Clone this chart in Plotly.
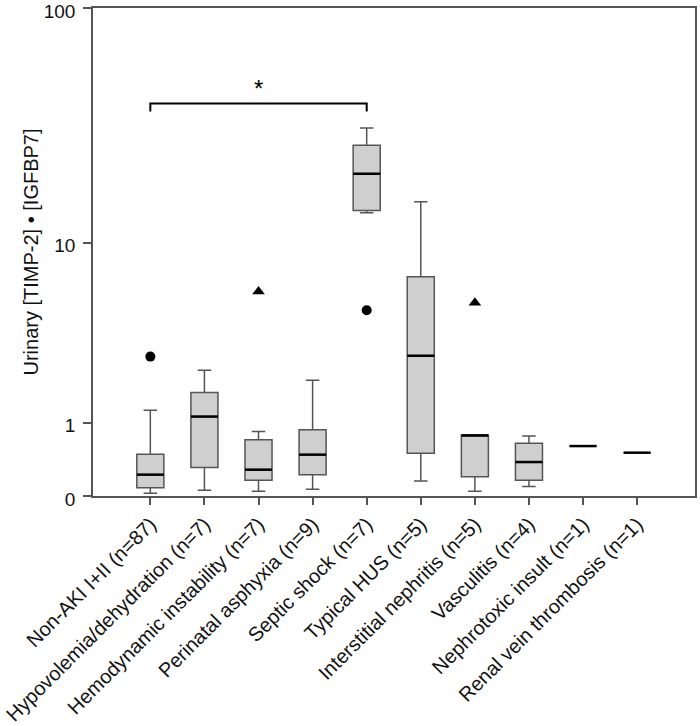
import numpy as np
import plotly.graph_objects as go

# categories and box statistics (raw units)
categories = [
    "Non-AKI I+II (n=87)",
    "Hypovolemia/dehydration (n=7)",
    "Hemodynamic instability (n=7)",
    "Perinatal asphyxia (n=9)",
    "Septic shock (n=7)",
    "Typical HUS (n=5)",
    "Interstitial nephritis (n=5)",
    "Vasculitis (n=4)",
    "Nephrotoxic insult (n=1)",
    "Renal vein thrombosis (n=1)",
]
lower = [0.026, 0.055, 0.045, 0.065, 13.6, 0.152, 0.045, 0.093, 0.604, 0.507]
q1 = [0.082, 0.308, 0.160, 0.224, 13.9, 0.497, 0.201, 0.160, 0.604, 0.507]
median = [0.224, 1.12, 0.283, 0.479, 20.1, 2.77, 0.775, 0.379, 0.604, 0.507]
q3 = [0.483, 1.66, 0.704, 0.873, 26.6, 6.97, 0.775, 0.646, 0.604, 0.507]
upper = [1.25, 2.29, 0.843, 1.99, 31.5, 15.2, 0.775, 0.763, 0.604, 0.507]

# outliers: circles and extreme values (triangles)
circle_cat = ["Non-AKI I+II (n=87)", "Septic shock (n=7)"]
circle_val = [2.74, 4.80]
tri_cat = ["Hemodynamic instability (n=7)", "Interstitial nephritis (n=5)"]
tri_val = [5.92, 5.22]

tick_vals = [0, 1, 10, 100]

# significance bracket between group 1 and group 5
bracket_from, bracket_to = 0, 4
bracket_top, bracket_end = 40, 37


def tr(v):
    # axis is log10(value + 1)
    return np.log10(np.asarray(v, dtype=float) + 1)


GRAY = "#555555"
TXT = "#111111"
FONT = "Liberation Sans, Arial, sans-serif"

fig = go.Figure()

fig.add_trace(go.Box(
    x=categories,
    lowerfence=tr(lower), q1=tr(q1), median=tr(median), q3=tr(q3), upperfence=tr(upper),
    fillcolor="#cfcfcf",
    line=dict(color=GRAY, width=1.5),
    width=0.5,
    whiskerwidth=0.5,
    boxpoints=False,
    hoverinfo="skip",
    showlegend=False,
))

# thick black medians drawn over the boxes
for i, m in enumerate(median):
    fig.add_shape(type="line", xref="x", yref="y",
                  x0=i - 0.25, x1=i + 0.25, y0=float(tr(m)), y1=float(tr(m)),
                  line=dict(color="black", width=2.5))

fig.add_trace(go.Scatter(
    x=circle_cat, y=tr(circle_val), mode="markers",
    marker=dict(symbol="circle", size=10, color="black"),
    showlegend=False, hoverinfo="skip",
))
fig.add_trace(go.Scatter(
    x=tri_cat, y=tr(tri_val), mode="markers",
    marker=dict(symbol="triangle-up", size=11, color="black"),
    showlegend=False, hoverinfo="skip",
))

yb, ye = float(tr(bracket_top)), float(tr(bracket_end))
fig.add_shape(type="path", xref="x", yref="y",
              path=f"M {bracket_from},{ye} L {bracket_from},{yb} L {bracket_to},{yb} L {bracket_to},{ye}",
              line=dict(color="black", width=2))
fig.add_annotation(x=(bracket_from + bracket_to) / 2, y=yb, yshift=15, text="*",
                   showarrow=False, font=dict(size=24, color="black", family=FONT))

fig.update_layout(
    width=700, height=726,
    margin=dict(l=93, r=5, t=8, b=230),
    plot_bgcolor="white", paper_bgcolor="white",
    font=dict(family=FONT, size=20, color=TXT),
)
fig.update_xaxes(
    type="category", categoryorder="array", categoryarray=categories,
    range=[-1.06, 10.07],
    tickangle=-45,
    ticks="outside", ticklen=7, tickwidth=1.5, tickcolor=GRAY,
    showline=True, linecolor=GRAY, linewidth=1.5, mirror=True,
    showgrid=False, zeroline=False, automargin=False,
    tickfont=dict(size=20, family=FONT, color=TXT),
)
fig.update_yaxes(
    range=[0, float(tr(100)) + 0.001],
    tickvals=tr(tick_vals), ticktext=[str(t) for t in tick_vals],
    ticks="outside", ticklen=8, tickwidth=1.5, tickcolor=GRAY,
    ticklabelstandoff=4, ticklabelshift=3,
    showline=True, linecolor=GRAY, linewidth=1.5, mirror=True,
    showgrid=False, zeroline=False, automargin=False,
    ticklabeloverflow="allow",
    title=dict(text="Urinary [TIMP-2] • [IGFBP7]", font=dict(size=20, family=FONT, color=TXT),
               standoff=0),
    tickfont=dict(size=19, family=FONT, color=TXT),
)

# page body has a default 8px margin; drop it so the figure fills the window
fig.write_html("out.html", config={"displayModeBar": False},
               post_script="document.body.style.margin='0';")
